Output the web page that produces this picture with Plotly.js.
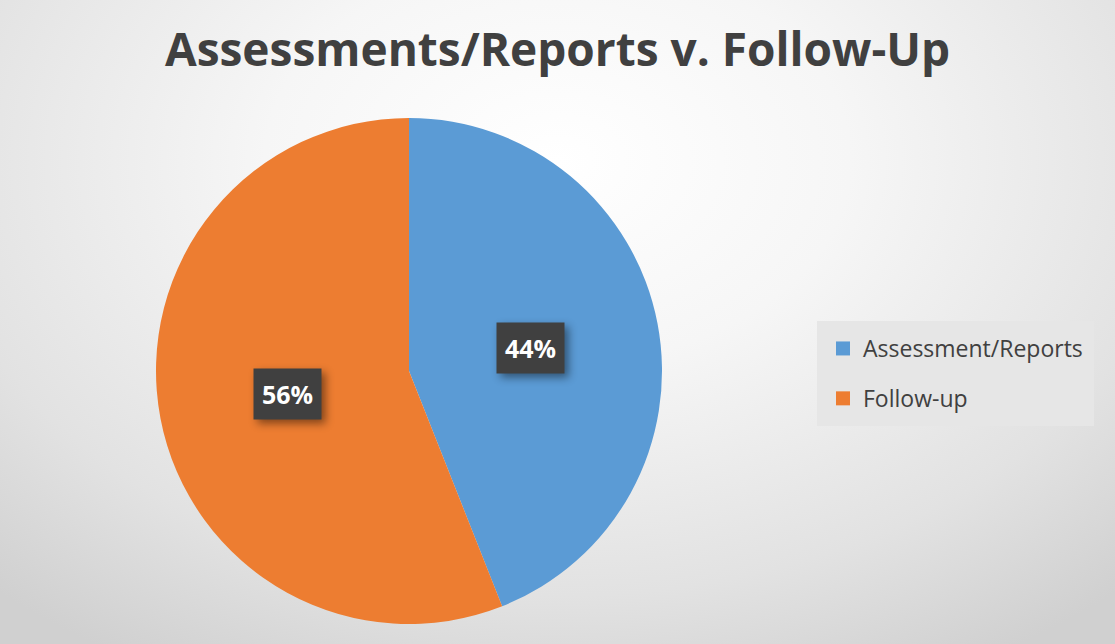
<!DOCTYPE html>
<html>
<head>
<meta charset="utf-8">
<script src="https://cdn.plot.ly/plotly-3.0.1.min.js"></script>
<style>
html,body{margin:0;padding:0;}
body{width:1115px;height:644px;overflow:hidden;
background: radial-gradient(ellipse 75% 90% at 50% 25%, #ffffff 0%, #f6f6f6 35%, #e2e2e2 75%, #d0d0d0 100%);}
#chart{width:1115px;height:644px;}
.annotation rect.bg{filter: drop-shadow(4px 4px 4px rgba(0,0,0,0.45));}
</style>
</head>
<body>
<div id="chart"></div>
<script>
const categories = ["Assessment/Reports", "Follow-up"];
const values = [44, 56];
const colors = ["#5B9BD5", "#ED7D31"];
const titleText = "Assessments/Reports v. Follow-Up";

const W = 1115, H = 644;
const cx = 409, cy = 371, R = 253;
const domX = [(cx - R) / W, (cx + R) / W];
const domY = [1 - (cy + R) / H, 1 - (cy - R) / H];

// label annotations placed at slice mid-angles computed from the data
const total = values.reduce((a, b) => a + b, 0);
let cum = 0;
const annotations = values.map((v, i) => {
  const mid = (cum + v / 2) / total * 2 * Math.PI;
  cum += v;
  const r = 0.49 * R;
  const px = cx + r * Math.sin(mid);
  const py = cy - r * Math.cos(mid);
  return {
    x: px / W, y: 1 - py / H, xref: 'paper', yref: 'paper',
    xanchor: 'center', yanchor: 'middle',
    text: '<b>' + Math.round(v / total * 100) + '%</b>',
    showarrow: false,
    font: {family: 'Open Sans, sans-serif', size: 25, color: '#ffffff'},
    bgcolor: '#404040', borderpad: 8
  };
});

const data = [{
  type: 'pie',
  labels: categories,
  values: values,
  sort: false,
  direction: 'clockwise',
  rotation: 0,
  marker: {colors: colors, line: {width: 0}},
  textinfo: 'none',
  hoverinfo: 'label+percent',
  showlegend: false,
  domain: {x: domX, y: domY}
}];

// legend entries (one per category)
categories.forEach((c, i) => {
  data.push({
    type: 'scatter', mode: 'markers',
    x: [null], y: [null],
    name: c, legendgroup: 'g' + i,
    marker: {symbol: 'square', size: 14, color: colors[i]},
    hoverinfo: 'skip'
  });
});

const layout = {
  width: W, height: H,
  margin: {l: 0, r: 0, t: 0, b: 0},
  paper_bgcolor: 'rgba(0,0,0,0)',
  plot_bgcolor: 'rgba(0,0,0,0)',
  xaxis: {visible: false},
  yaxis: {visible: false},
  title: {
    text: '<b>' + titleText + '</b>',
    x: 0.5, xanchor: 'center',
    y: 1 - 50 / H, yanchor: 'middle',
    font: {family: 'Open Sans, sans-serif', size: 46, color: '#404040'}
  },
  showlegend: true,
  legend: {
    x: 817 / W, xanchor: 'left',
    y: 1 - 321 / H, yanchor: 'top',
    bgcolor: '#e6e6e6',
    bordercolor: '#e6e6e6',
    borderwidth: 6,
    font: {family: 'Open Sans, sans-serif', size: 23, color: '#404040'},
    itemwidth: 30,
    tracegroupgap: 17
  },
  annotations: annotations
};

Plotly.newPlot('chart', data, layout, {displayModeBar: false});
</script>
</body>
</html>
